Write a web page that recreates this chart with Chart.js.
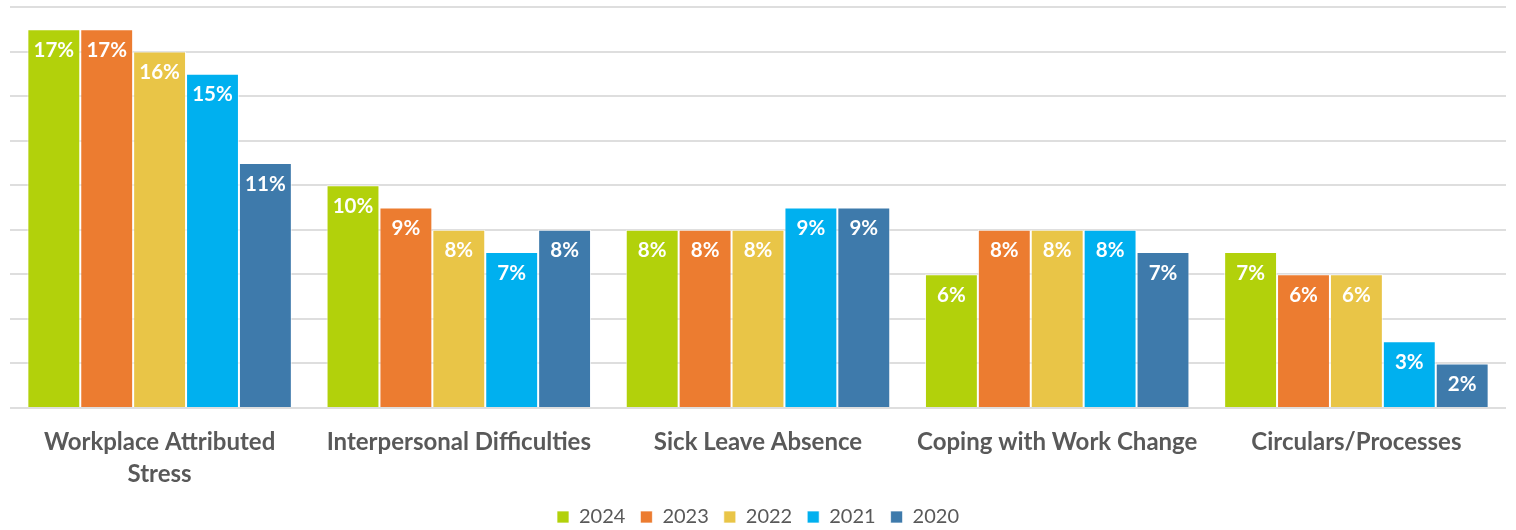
<!DOCTYPE html>
<html>
<head>
<meta charset="utf-8">
<script src="https://cdn.jsdelivr.net/npm/chart.js@4.4.0/dist/chart.umd.min.js"></script>
<style>
    html, body { margin: 0; padding: 0; background: #fff; }
    #wrap { width: 1516px; height: 530px; position: relative; }
</style>
</head>
<body>
<div id="wrap"><canvas id="chart"></canvas></div>
<script>
// ---- Data ----
const categories = [
    ["Workplace Attributed", "Stress"],
    "Interpersonal Difficulties",
    "Sick Leave Absence",
    "Coping with Work Change",
    "Circulars/Processes",
];
const years = ["2024", "2023", "2022", "2021", "2020"];
const values2024 = [17, 10, 8, 6, 7];
const values2023 = [17, 9, 8, 8, 6];
const values2022 = [16, 8, 8, 8, 6];
const values2021 = [15, 7, 9, 8, 3];
const values2020 = [11, 8, 9, 7, 2];
const yTicks = [0, 2, 4, 6, 8, 10, 12, 14, 16, 18];

const seriesValues = [values2024, values2023, values2022, values2021, values2020];
const colors = ["#b2d10b", "#ec7c30", "#e9c547", "#00b0ef", "#3e7aab"];

const FONT = "Lato, 'Open Sans', sans-serif";
const GREY = "#595959";

// draws the white % labels inside the top of each bar
const barLabels = {
    id: "barLabels",
    afterDatasetsDraw(chart) {
        const ctx = chart.ctx;
        ctx.save();
        ctx.fillStyle = "#fff";
        ctx.font = `bold 20.5px ${FONT}`;
        ctx.textAlign = "center";
        ctx.textBaseline = "middle";
        chart.data.datasets.forEach((ds, i) => {
            chart.getDatasetMeta(i).data.forEach((bar, j) => {
                ctx.fillText(`${ds.data[j]}%`, bar.x, bar.y + 21);
            });
        });
        ctx.restore();
    },
};

const ctx = document.getElementById("chart").getContext("2d");
new Chart(ctx, {
    type: "bar",
    data: {
        labels: categories,
        datasets: years.map((y, i) => ({
            label: y,
            data: seriesValues[i],
            backgroundColor: colors[i],
            borderColor: "rgba(255,255,255,0.7)",
            borderWidth: 1,
            categoryPercentage: 0.884,
            barPercentage: 1,
        })),
    },
    options: {
        responsive: true,
        maintainAspectRatio: false,
        animation: false,
        layout: { padding: { left: 10, right: 10, top: 7, bottom: -7 } },
        plugins: {
            legend: {
                position: "bottom",
                labels: {
                    boxWidth: 12,
                    boxHeight: 12,
                    padding: 15,
                    color: GREY,
                    font: { family: FONT, size: 20 },
                },
            },
            tooltip: { enabled: false },
        },
        scales: {
            x: {
                grid: { display: false, drawTicks: false },
                border: { display: false },
                afterFit: (axis) => { axis.height = 84; },
                ticks: {
                    color: GREY,
                    padding: 18,
                    autoSkip: false,
                    font: { family: FONT, size: 24, weight: "bold", lineHeight: 1.34 },
                    maxRotation: 0,
                },
            },
            y: {
                min: 0,
                max: 18,
                afterBuildTicks: (axis) => { axis.ticks = yTicks.map((v) => ({ value: v })); },
                ticks: { display: false },
                border: { display: false },
                grid: { color: "#dedede", lineWidth: 2, drawTicks: false },
            },
        },
    },
    plugins: [barLabels],
});
</script>
</body>
</html>
